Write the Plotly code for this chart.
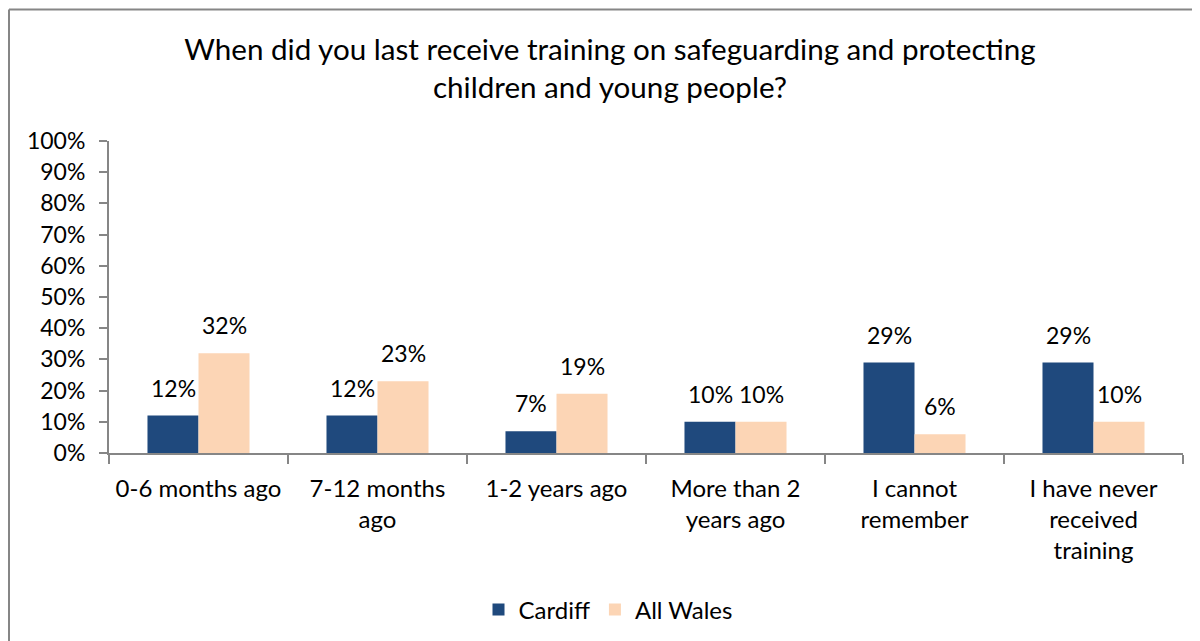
import plotly.graph_objects as go

categories = ["0-6 months ago", "7-12 months<br>ago", "1-2 years ago",
              "More than 2<br>years ago", "I cannot<br>remember",
              "I have never<br>received<br>training"]
cardiff = [0.12, 0.12, 0.07, 0.10, 0.29, 0.29]
all_wales = [0.32, 0.23, 0.19, 0.10, 0.06, 0.10]
series_names = ["Cardiff", "All Wales"]
colors = ["#1F497D", "#FCD5B5"]

FONT = "Lato"
W, H = 1200, 641
OFF = 8  # page body margin
ML, MR, MT, MB = 109 - OFF, 25, 141 - OFF, 196
pw = W - ML - MR
ph = H - MT - MB


def px_x(sx):
    return (sx - OFF - ML) / pw


def px_y(sy):
    return (MT + ph - (sy - OFF)) / ph


fig = go.Figure()
for i, (name, vals, col) in enumerate(zip(series_names, [cardiff, all_wales], colors)):
    fig.add_trace(go.Bar(
        name=name, x=categories, y=vals, marker_color=col,
        marker_line_width=0, cliponaxis=False,
    ))
    shift = -25.5 if i == 0 else 25.5
    for c, v in zip(categories, vals):
        fig.add_annotation(x=c, y=v, text=f"{v:.0%}", showarrow=False,
                           xshift=shift, yshift=12, yanchor="bottom",
                           font=dict(family=FONT, size=23, color="#000000"))

fig.update_layout(
    width=W, height=H,
    margin=dict(l=ML, r=MR, t=MT, b=MB),
    paper_bgcolor="white", plot_bgcolor="white",
    barmode="group", bargap=0.43, bargroupgap=0,
    font=dict(family=FONT, size=23, color="#000000"),
    title=dict(text="When did you last receive training on safeguarding and protecting<br>children and young people?",
               x=(610 - OFF) / W, xanchor="center", y=1 - (60 - OFF) / H, yanchor="top",
               font=dict(family=FONT, size=29.6, color="#000000")),
    legend=dict(orientation="h", x=px_x(608), xanchor="center",
                y=px_y(610), yanchor="middle",
                font=dict(family=FONT, size=24), itemwidth=30,
                traceorder="normal"),
    showlegend=True,
)
fig.update_xaxes(showline=True, linecolor="#868686", linewidth=2,
                 ticks="outside", tickson="boundaries", ticklen=9,
                 tickcolor="#868686", tickwidth=2, ticklabelstandoff=13,
                 tickfont=dict(family=FONT, size=24))
fig.update_yaxes(range=[0, 1], dtick=0.1, tickformat=".0%",
                 showline=True, linecolor="#868686", linewidth=2,
                 ticks="outside", ticklen=8, tickcolor="#868686", tickwidth=2,
                 ticklabelstandoff=9,
                 showgrid=False, zeroline=False,
                 tickfont=dict(family=FONT, size=23))

# chart border (top and left edges visible)
bx = px_x(9)
by = px_y(9.5)
fig.add_shape(type="line", xref="paper", yref="paper", x0=bx, x1=px_x(1220),
              y0=by, y1=by, line=dict(color="#868686", width=2))
fig.add_shape(type="line", xref="paper", yref="paper", x0=bx, x1=bx,
              y0=by, y1=px_y(660), line=dict(color="#868686", width=2))

fig.write_html("out.html")
